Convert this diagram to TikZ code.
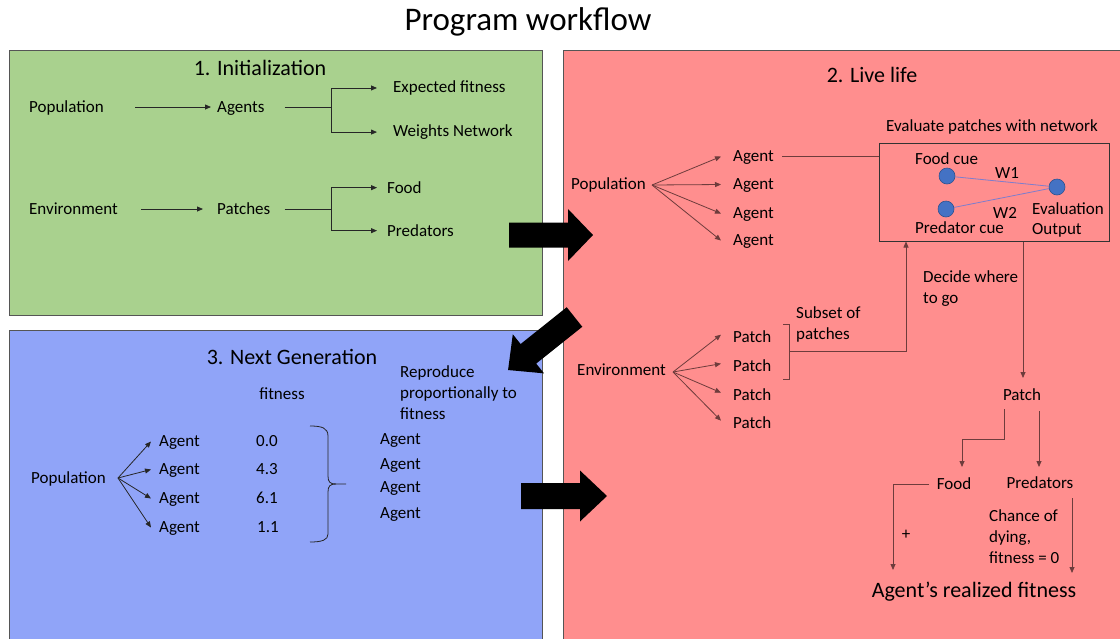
\documentclass[tikz,border=0pt]{standalone}
\usepackage{fontspec}
\setmainfont{Carlito}
\usetikzlibrary{arrows.meta}
\definecolor{pgreen}{RGB}{169,209,142}
\definecolor{pred}{RGB}{255,142,142}
\definecolor{pblue}{RGB}{144,164,248}
\definecolor{pborder}{RGB}{85,85,85}
\definecolor{rline}{RGB}{110,60,60}
\definecolor{nodeblue}{RGB}{68,114,196}
\definecolor{nodeedge}{RGB}{47,82,143}
\definecolor{wline}{RGB}{125,125,205}
\begin{document}
\begin{tikzpicture}[x=1pt,y=-1pt,
  txt/.style={inner sep=0pt, font=\fontsize{17}{21}\selectfont, anchor=base west, yshift=-5.5pt},
  mtxt/.style={inner sep=0pt, font=\fontsize{17}{21}\selectfont, anchor=west, align=left},
  ctxt/.style={inner sep=0pt, font=\fontsize{17}{21}\selectfont, anchor=base, yshift=-5.5pt},
  sectitle/.style={inner sep=0pt, font=\fontsize{22}{26}\selectfont},
  panel/.style={draw=pborder, line width=1pt},
  gl/.style={draw=black!85, line width=0.8pt},
  garr/.style={gl, -{Triangle[length=6pt,width=5pt]}},
  rl/.style={draw=rline, line width=0.8pt},
  rarr/.style={rl, -{Triangle[length=6pt,width=5pt]}},
  bl/.style={draw=black!85, line width=0.8pt},
  barr/.style={bl, -{Triangle[length=6pt,width=5pt]}},
  netnode/.style={circle, fill=nodeblue, draw=nodeedge, line width=0.6pt, minimum size=16pt, inner sep=0pt},
  wedge/.style={draw=wline, line width=0.8pt},
  blockarrow/.style={fill=black}
]
\useasboundingbox (0,0) rectangle (1120,638);
\clip (0,0) rectangle (1120,638);
\fill[white] (0,0) rectangle (1120,638);

% panels
\draw[panel, fill=pgreen] (9,50) rectangle (542,315);
\draw[panel, fill=pred] (563,50) rectangle (1130,650);
\draw[panel, fill=pblue] (9,330) rectangle (542,650);

% title
\node[inner sep=0pt, font=\fontsize{33}{40}\selectfont] (title) at (528,22) {Program workflow};

% ---------- 1. Initialization ----------
\node[sectitle] (t1) at (260,68) {1. Initialization};
\node[txt] (gpop) at (29,107) {Population};
\node[txt] (gag) at (217,107) {Agents};
\node[txt] (gexp) at (393,87) {Expected fitness};
\node[txt] (gwn) at (393,131) {Weights Network};
\node[txt] (genv) at (29,209) {Environment};
\node[txt] (gpat) at (217,209) {Patches};
\node[txt] (gfood) at (387,188) {Food};
\node[txt] (gpred) at (387,231) {Predators};

\coordinate (ga1) at (135,107);
\coordinate (ga2) at (211,107);
\draw[garr] (ga1) -- (ga2);
\coordinate (gs1) at (331,107);
\draw[gl] ([xshift=20pt]gag.east |- gs1) -- (gs1);
\draw[garr] (gs1) |- ([xshift=-16pt]gexp.west);
\draw[garr] (gs1) |- ([xshift=-16pt]gwn.west);

\coordinate (ge1) at (141,209);
\coordinate (ge2) at (203,209);
\draw[garr] (ge1) -- (ge2);
\coordinate (gs2) at (331,209);
\draw[gl] ([xshift=14pt]gpat.east |- gs2) -- (gs2);
\draw[garr] (gs2) |- ([xshift=-10pt]gfood.west);
\draw[garr] (gs2) |- ([xshift=-10pt]gpred.west);

% ---------- 2. Live life ----------
\node[sectitle] (t2) at (872,75) {2. Live life};
\node[ctxt] (evl) at (992,126) {Evaluate patches with network};
\node[draw=black!80, line width=1pt, minimum width=230pt, minimum height=98pt, inner sep=0pt] (net) at (994,192) {};
\node[txt] (fc) at (915,159) {Food cue};
\node[txt] (pc) at (915,228) {Predator cue};
\node[txt] (ev) at (1032,209) {Evaluation};
\node[txt] (out) at (1032,229) {Output};
\node[netnode] (n1) at (947,176) {};
\node[netnode] (n2) at (946,209) {};
\node[netnode] (n3) at (1057,187) {};
\draw[wedge] (n1) -- (n3);
\draw[wedge] (n2) -- (n3);
\node[ctxt] (w1) at (1007,173) {W1};
\node[ctxt] (w2) at (1005,213) {W2};

\node[txt] (rpop) at (571,184) {Population};
\node[txt] (ra1) at (733,156) {Agent};
\node[txt] (ra2) at (733,184) {Agent};
\node[txt] (ra3) at (733,213) {Agent};
\node[txt] (ra4) at (733,240) {Agent};
\coordinate (rpo) at (652,185);
\foreach \i in {1,2,3,4}
  \draw[rarr] (rpo) -- ([xshift=-12pt,yshift=1pt]ra\i.west);
\draw[rl] ([xshift=8pt,yshift=1pt]ra1.east) -- ([yshift=1pt]ra1.east -| net.west);

\node[txt] (renv) at (577,370) {Environment};
\node[txt] (rp1) at (733,337) {Patch};
\node[txt] (rp2) at (733,366) {Patch};
\node[txt] (rp3) at (733,395) {Patch};
\node[txt] (rp4) at (733,423) {Patch};
\coordinate (reo) at (673,372);
\foreach \i in {1,2,3,4}
  \draw[rarr] (reo) -- ([xshift=-12pt,yshift=2pt]rp\i.west);

% bracket for subset
\coordinate (bk1) at (783,324);
\coordinate (bk2) at (783,379);
\coordinate (brk) at (789,351);
\draw[rl] (bk1) -- ++(6,0) -- ++(0,55) -- (bk2);
\draw[rarr] (brk) -| ([xshift=-88pt]net.south);
\node[mtxt] (sub) at (796,324) {Subset of\\patches};
\node[mtxt] (dec) at (923,289) {Decide where\\to go};

\node[ctxt] (rpatch) at (1022,395) {Patch};
\coordinate (pt) at (1023,378);
\draw[rarr] (pt |- net.south) -- (pt);

\node[ctxt] (rfood) at (954,484) {Food};
\node[ctxt] (rpred) at (1040,483) {Predators};
\coordinate (pf1) at (1004,409);
\coordinate (pf2) at (962,439);
\coordinate (pf3) at (962,467);
\draw[rarr] (pf1) |- (pf2) -- (pf3);
\coordinate (pp1) at (1039,411);
\coordinate (pp2) at (1039,467);
\draw[rarr] (pp1) -- (pp2);

\node[inner sep=0pt, font=\fontsize{22}{26}\selectfont] (real) at (974,592) {Agent’s realized fitness};
\coordinate (fs) at (929,484);
\coordinate (fe) at (893,570);
\coordinate (ps) at (1072,498);
\coordinate (pe) at (1072,573);
\draw[rarr] (fs) -| (fe);
\draw[rarr] (ps) -- (pe);
\node[ctxt] (plus) at (906,534) {+};
\node[mtxt] (chance) at (989,537) {Chance of\\dying,\\fitness = 0};

% ---------- 3. Next Generation ----------
\node[sectitle] (t3) at (292,357) {3. Next Generation};
\node[ctxt] (fit) at (282,394) {fitness};
\node[mtxt] (rep) at (400,393) {Reproduce\\proportionally to\\fitness};
\node[txt] (bpop) at (31,478) {Population};
\node[txt] (ba1) at (159,441) {Agent};
\node[txt] (ba2) at (159,469) {Agent};
\node[txt] (ba3) at (159,498) {Agent};
\node[txt] (ba4) at (159,527) {Agent};
\coordinate (bpo) at (118,478);
\foreach \i in {1,2,3,4}
  \draw[barr] (bpo) -- ([xshift=-8pt,yshift=1pt]ba\i.west);
\node[ctxt] (f1) at (267,441) {0.0};
\node[ctxt] (f2) at (267,469) {4.3};
\node[ctxt] (f3) at (267,498) {6.1};
\node[ctxt] (f4) at (268,527) {1.1};
\draw[bl] (310,426) .. controls (322,426) and (328,428) .. (328,436)
  -- (328,476) .. controls (328,482) and (330,484) .. (336,484) -- (346,484);
\draw[bl] (336,484) .. controls (330,484) and (328,486) .. (328,492)
  -- (328,534) .. controls (328,540) and (322,542) .. (310,542);
\node[txt] (bb1) at (380,439) {Agent};
\node[txt] (bb2) at (380,464) {Agent};
\node[txt] (bb3) at (380,487) {Agent};
\node[txt] (bb4) at (380,513) {Agent};

% ---------- block arrows ----------
\begin{scope}[shift={(509,235)}]
  \fill[blockarrow] (0,-12.5) -- (59,-12.5) -- (59,-26) -- (84,0) -- (59,26) -- (59,12.5) -- (0,12.5) -- cycle;
\end{scope}
\begin{scope}[shift={(574.5,317)}, rotate=218.6]
  \fill[blockarrow] (0,-12.5) -- (59,-12.5) -- (59,-25) -- (85,0) -- (59,25) -- (59,12.5) -- (0,12.5) -- cycle;
\end{scope}
\begin{scope}[shift={(521,496)}]
  \fill[blockarrow] (0,-13) -- (59,-13) -- (59,-25.5) -- (86,0) -- (59,25.5) -- (59,13) -- (0,13) -- cycle;
\end{scope}
\end{tikzpicture}
\end{document}
